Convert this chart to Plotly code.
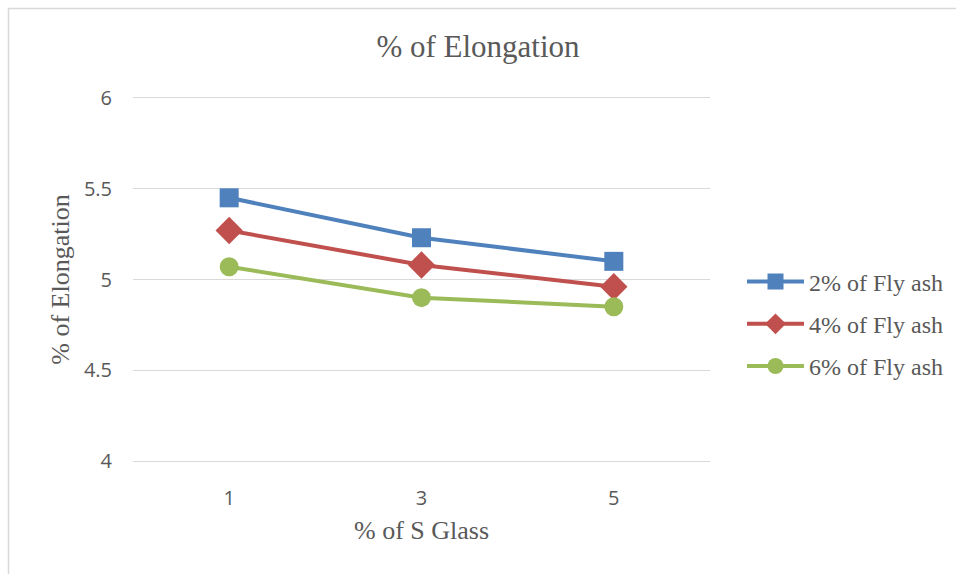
import plotly.graph_objects as go

# S Glass content (%) on the x axis, as categories
s_glass = ["1", "3", "5"]

# Elongation (%) for each fly ash content
fly_ash_2 = [5.45, 5.23, 5.10]
fly_ash_4 = [5.27, 5.08, 4.96]
fly_ash_6 = [5.07, 4.90, 4.85]

series_names = ["2% of Fly ash", "4% of Fly ash", "6% of Fly ash"]
y_ticks = [4, 4.5, 5, 5.5, 6]
y_tick_text = ["4", "4.5", "5", "5.5", "6"]

colors = ["#4F81BD", "#C0504D", "#9BBB59"]
symbols = ["square", "diamond", "circle"]
sizes = [19, 21, 19]

TEXT = "#595959"
GRID = "#D9D9D9"
SERIF = "Liberation Serif, Times New Roman, serif"
SANS = "Open Sans, Calibri, sans-serif"

fig = go.Figure()
for name, ys, c, sym, sz in zip(series_names, [fly_ash_2, fly_ash_4, fly_ash_6],
                                colors, symbols, sizes):
    fig.add_trace(go.Scatter(
        x=s_glass, y=ys, name=name, legendgroup=name,
        mode="lines+markers",
        line=dict(color=c, width=4),
        marker=dict(symbol=sym, size=sz, color=c, line=dict(width=0)),
    ))

fig.update_layout(
    width=956, height=574,
    margin=dict(l=133, r=246, t=98, b=113, autoexpand=False),
    paper_bgcolor="white", plot_bgcolor="white",
    title=dict(text="% of Elongation", x=0.5, xanchor="center",
               y=1 - 46 / 574, yanchor="middle",
               font=dict(family=SERIF, size=31, color=TEXT)),
    xaxis=dict(
        type="category", range=[-0.5, 2.5],
        showgrid=False, zeroline=False,
        showline=True, mirror=True, linecolor=GRID, linewidth=1,
        ticks="outside", ticklen=19, tickcolor="rgba(0,0,0,0)",
        tickfont=dict(family=SANS, size=20, color=TEXT),
        title=dict(text="% of S Glass", standoff=10,
                   font=dict(family=SERIF, size=26, color=TEXT)),
    ),
    yaxis=dict(
        range=[4, 6], tickvals=y_ticks, ticktext=y_tick_text,
        showgrid=True, gridcolor=GRID, gridwidth=1,
        zeroline=False, showline=False,
        ticks="outside", ticklen=16, tickcolor="rgba(0,0,0,0)",
        tickfont=dict(family=SANS, size=20, color=TEXT),
        title=dict(text="% of Elongation", standoff=6,
                   font=dict(family=SERIF, size=26, color=TEXT)),
    ),
    legend=dict(
        x=(742 - 133) / 577, xanchor="left",
        y=(461 - 324) / 363, yanchor="middle",
        font=dict(family=SERIF, size=24, color=TEXT),
        itemwidth=57, tracegroupgap=8,
        bgcolor="rgba(0,0,0,0)",
    ),
    showlegend=True,
)

# Light frame around the chart area
fig.add_shape(type="rect", xref="paper", yref="paper",
              x0=(8.5 - 133) / 577, x1=1.6,
              y0=-0.5, y1=1 + (98 - 8.5) / 363,
              line=dict(color=GRID, width=1.5), layer="below")

fig.write_html("out.html")
